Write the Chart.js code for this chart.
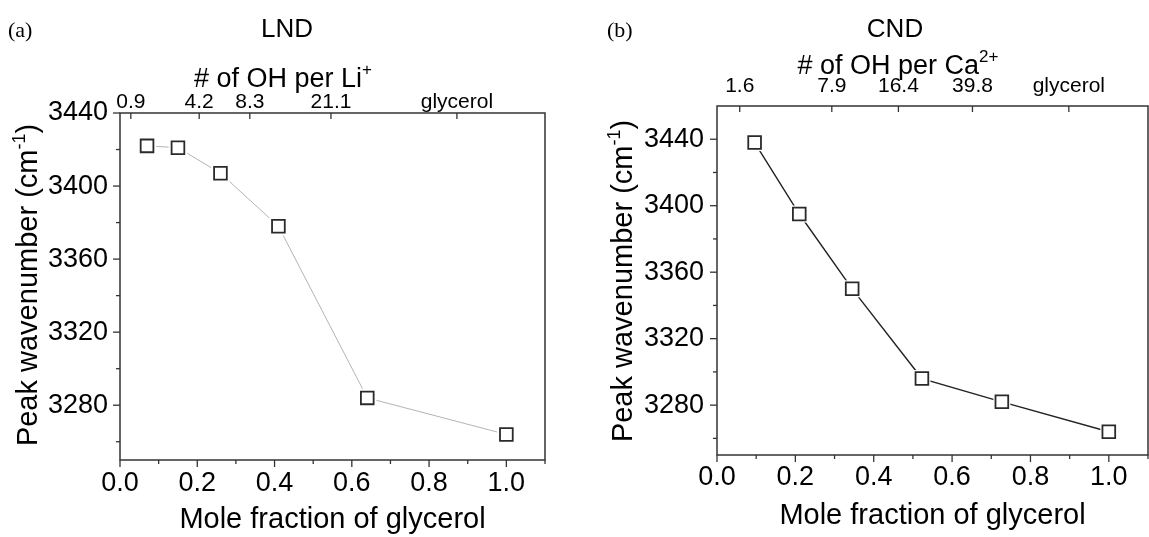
<!DOCTYPE html>
<html>
<head>
<meta charset="utf-8">
<script src="https://cdn.jsdelivr.net/npm/chart.js@4.4.1/dist/chart.umd.min.js"></script>
<style>
  html, body { margin: 0; padding: 0; background: #fff; overflow: hidden; }
  canvas { position: absolute; top: 0; }
  #lnd { left: 0; }
  #cnd { left: 575px; }
</style>
</head>
<body>
<canvas id="lnd" width="575" height="537"></canvas>
<canvas id="cnd" width="574" height="537"></canvas>
<script>
// LND (panel a)
const lndFraction = [0.07, 0.15, 0.26, 0.41, 0.64, 1.0];
const lndPeak = [3422, 3421, 3407, 3378, 3284, 3264];
const lndTopPos = [0.028, 0.205, 0.336, 0.546, 0.872];
const lndTopLabels = ['0.9', '4.2', '8.3', '21.1', 'glycerol'];

// CND (panel b)
const cndFraction = [0.096, 0.21, 0.345, 0.523, 0.727, 1.0];
const cndPeak = [3438, 3395, 3350, 3296, 3282, 3264];
const cndTopPos = [0.058, 0.293, 0.463, 0.652, 0.898];
const cndTopLabels = ['1.6', '7.9', '16.4', '39.8', 'glycerol'];

const xMajor = [0, 0.2, 0.4, 0.6, 0.8, 1.0];
const xMinor = [0.1, 0.3, 0.5, 0.7, 0.9, 1.1];
const yMajor = [3280, 3320, 3360, 3400, 3440];
const yMinor = [3260, 3300, 3340, 3380, 3420, 3460];

const FONT = '"Liberation Sans", Arial, sans-serif';
Chart.defaults.font.family = FONT;
Chart.defaults.color = '#000';

// text with superscript parts, centred on (x, y) at cap height
function richText(ctx, parts, x, y, size, rotate) {
    ctx.save();
    ctx.translate(x, y);
    if (rotate) ctx.rotate(-Math.PI / 2);
    const fontOf = sup => `${sup ? Math.round(size * 0.62) : size}px ${FONT}`;
    let w = 0;
    parts.forEach(p => { ctx.font = fontOf(p[1]); w += ctx.measureText(p[0]).width; });
    let cx = -w / 2;
    ctx.textAlign = 'left';
    ctx.textBaseline = 'alphabetic';
    ctx.fillStyle = '#000';
    parts.forEach(p => {
        ctx.font = fontOf(p[1]);
        ctx.fillText(p[0], cx, size * 0.36 - (p[1] ? size * 0.42 : 0));
        cx += ctx.measureText(p[0]).width;
    });
    ctx.restore();
}

const framePlugin = {
    id: 'frame',
    afterDraw(chart, args, o) {
        const { ctx, chartArea: a, scales } = chart;
        ctx.save();
        ctx.strokeStyle = '#333';
        ctx.lineWidth = 1.3;
        const tick = (x1, y1, x2, y2) => { ctx.beginPath(); ctx.moveTo(x1, y1); ctx.lineTo(x2, y2); ctx.stroke(); };
        yMajor.forEach(v => { if (v <= scales.y.max) { const y = scales.y.getPixelForValue(v); tick(a.left - 7, y, a.left, y); } });
        yMinor.forEach(v => { if (v < scales.y.max) { const y = scales.y.getPixelForValue(v); tick(a.left - 4, y, a.left, y); } });
        xMajor.forEach(v => { const x = scales.x.getPixelForValue(v); tick(x, a.bottom, x, a.bottom + 7); });
        xMinor.forEach(v => { const x = scales.x.getPixelForValue(v); tick(x, a.bottom, x, a.bottom + 4); });
        scales.x2.ticks.forEach(t => { const x = scales.x2.getPixelForValue(t.value); tick(x, a.top, x, a.top + 6); });
        ctx.lineWidth = 1.5;
        ctx.strokeRect(a.left, a.top, a.right - a.left, a.bottom - a.top);

        ctx.fillStyle = '#000';
        ctx.font = `22px "Liberation Serif", "Times New Roman", serif`;
        ctx.textAlign = 'left';
        ctx.textBaseline = 'middle';
        ctx.fillText(o.panel, o.panelX, 31);

        richText(ctx, [[o.title, false]], o.titleX, 28, 26);
        richText(ctx, o.topTitle, o.topTitleX, o.topTitleY, 27);
        richText(ctx, [['Mole fraction of glycerol', false]], (a.left + a.right) / 2, o.xTitleY, 29);
        richText(ctx, [['Peak wavenumber (cm', false], ['-1', true], [')', false]], o.yTitleX, o.yTitleY, 29, true);
        ctx.restore();
    }
};

function noPad(s) {
    s.paddingLeft = 0; s.paddingRight = 0; s.paddingTop = 0; s.paddingBottom = 0;
}

function makeChart(id, fx, fy, topPos, topLabels, lay) {
    const pts = fx.map((x, i) => ({ x: x, y: fy[i] }));
    return new Chart(document.getElementById(id), {
        type: 'scatter',
        data: {
            datasets: [
                {
                    data: pts, showLine: true, borderColor: lay.lineColor, borderWidth: lay.lineWidth,
                    pointStyle: 'rect', pointRadius: lay.halo, pointBackgroundColor: '#fff',
                    pointBorderColor: '#fff', pointBorderWidth: 0, order: 2
                },
                {
                    data: pts, showLine: false,
                    pointStyle: 'rect', pointRadius: 9, pointBackgroundColor: '#fff',
                    pointBorderColor: '#2a2a2a', pointBorderWidth: 1.8, order: 1
                }
            ]
        },
        options: {
            responsive: false,
            animation: false,
            events: [],
            layout: { autoPadding: false, padding: { left: 0, top: 0, bottom: 0, right: lay.padRight } },
            plugins: {
                legend: { display: false },
                tooltip: { enabled: false },
                frame: lay.frame
            },
            scales: {
                x: {
                    type: 'linear', position: 'bottom', min: 0, max: 1.1,
                    afterBuildTicks: s => { s.ticks = xMajor.map(v => ({ value: v })); },
                    afterFit: s => { s.height = lay.bottomH; noPad(s); },
                    grid: { display: false, drawTicks: false },
                    border: { display: false },
                    ticks: {
                        padding: lay.xPad, autoSkip: false, maxRotation: 0,
                        font: { size: 27, lineHeight: 1 },
                        callback: v => v.toFixed(1)
                    }
                },
                x2: {
                    type: 'linear', position: 'top', min: 0, max: 1.1,
                    afterBuildTicks: s => { s.ticks = topPos.map(v => ({ value: v })); },
                    afterFit: s => { s.height = lay.topH; noPad(s); },
                    grid: { display: false, drawTicks: false },
                    border: { display: false },
                    ticks: {
                        padding: lay.topPad, autoSkip: false, maxRotation: 0,
                        font: { size: 21, lineHeight: 1 },
                        callback: (v, i) => topLabels[i]
                    }
                },
                y: {
                    type: 'linear', position: 'left', min: 3250, max: lay.yMax,
                    afterBuildTicks: s => { s.ticks = yMajor.map(v => ({ value: v })); },
                    afterFit: s => { s.width = lay.leftW; noPad(s); },
                    grid: { display: false, drawTicks: false },
                    border: { display: false },
                    ticks: {
                        padding: lay.yPad, autoSkip: false,
                        font: { size: 27, lineHeight: 1 },
                        callback: v => String(v)
                    }
                }
            }
        },
        plugins: [framePlugin]
    });
}

makeChart('lnd', lndFraction, lndPeak, lndTopPos, lndTopLabels, {
    lineColor: '#b4b4b4', lineWidth: 1, halo: 13,
    padRight: 30, leftW: 120, topH: 113, bottomH: 77,
    xPad: 10, topPad: 0, yPad: 12, yMax: 3440,
    frame: {
        panel: '(a)', panelX: 8, title: 'LND', titleX: 287,
        topTitle: [['# of OH per Li', false], ['+', true]], topTitleX: 283, topTitleY: 77,
        xTitleY: 518, yTitleX: 27, yTitleY: 285
    }
});

makeChart('cnd', cndFraction, cndPeak, cndTopPos, cndTopLabels, {
    lineColor: '#222', lineWidth: 1.4, halo: 12,
    padRight: 1, leftW: 142, topH: 106, bottomH: 82,
    xPad: 9, topPad: 9, yPad: 13, yMax: 3460,
    frame: {
        panel: '(b)', panelX: 32, title: 'CND', titleX: 320,
        topTitle: [['# of OH per Ca', false], ['2+', true]], topTitleX: 323, topTitleY: 64,
        xTitleY: 514, yTitleX: 47, yTitleY: 281
    }
});
</script>
</body>
</html>
